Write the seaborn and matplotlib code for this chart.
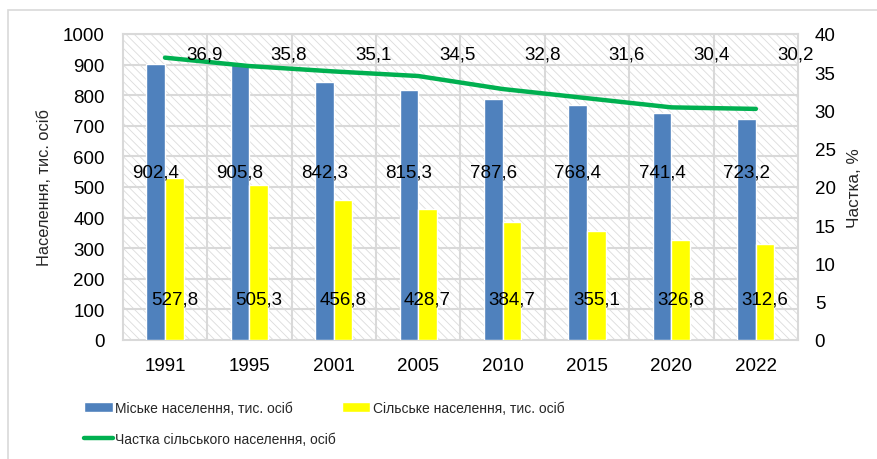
import numpy as np
import pandas as pd
import seaborn as sns
import matplotlib.pyplot as plt
from matplotlib.patches import Rectangle

years = ['1991', '1995', '2001', '2005', '2010', '2015', '2020', '2022']
urban = [902.4, 905.8, 842.3, 815.3, 787.6, 768.4, 741.4, 723.2]
rural = [527.8, 505.3, 456.8, 428.7, 384.7, 355.1, 326.8, 312.6]
rural_share = [36.9, 35.8, 35.1, 34.5, 32.8, 31.6, 30.4, 30.2]

urban_name = 'Міське населення, тис. осіб'
rural_name = 'Сільське населення, тис. осіб'
share_name = 'Частка сільського населення, осіб'

sns.set_theme(style='white')
plt.rcParams['font.family'] = ['Liberation Sans', 'DejaVu Sans']
plt.rcParams['hatch.linewidth'] = 0.6

df = pd.DataFrame({
    'year': years * 2,
    'value': urban + rural,
    'kind': [urban_name] * len(years) + [rural_name] * len(years),
})

fig = plt.figure(figsize=(8.77, 4.6), dpi=100)
ax = fig.add_axes([0.140, 0.259, 0.770, 0.665])

# chart frame
fig.patches.append(Rectangle((8 / 877, -0.1), 1.2, 1.1 - 11 / 460, transform=fig.transFigure,
                             facecolor='none', edgecolor='#d9d9d9', lw=1.2))

# hatched plot background
ax.set_facecolor('none')
ax.add_patch(Rectangle((0, 0), 1, 1, transform=ax.transAxes, facecolor='white',
                       edgecolor='#dcdcdc', hatch='\\\\\\\\', lw=0, zorder=-5))

sns.barplot(data=df, x='year', y='value', hue='kind', palette=['#4f81bd', '#ffff00'],
            width=0.44, saturation=1, ax=ax, zorder=3)
ax.get_legend().remove()

n = len(years)
ax.set_xlim(-0.5, n - 0.5)
ax.set_ylim(0, 1000)
ax.set_yticks(np.arange(0, 1001, 100))
ax.set_xticks(np.arange(-0.5, n, 1), minor=True)
ax.grid(False)
for y in np.arange(100, 1001, 100):
    ax.axhline(y, color='#d9d9d9', lw=1.5, zorder=1)
for x in np.arange(0.5, n - 0.5, 1):
    ax.axvline(x, color='#d9d9d9', lw=1.5, zorder=1)
for s in ax.spines.values():
    s.set_color('#d9d9d9')
    s.set_linewidth(1.5)
ax.tick_params(axis='x', which='major', length=0, labelsize=13.5, pad=12, colors='black')
ax.tick_params(axis='x', which='minor', length=5, width=1.5, color='#d9d9d9', direction='out')
ax.tick_params(axis='y', length=0, labelsize=13.5, pad=13, colors='black')
ax.set_xlabel('')
ax.set_ylabel('Населення, тис. осіб', fontsize=11.8, labelpad=8)

# value labels
for cont, label_y in zip(ax.containers, [550, 135]):
    for bar, v in zip(cont, cont.datavalues):
        ax.text(bar.get_x() + bar.get_width() / 2, label_y, f'{v:.1f}'.replace('.', ','),
                ha='center', va='center', fontsize=13.5, color='black', zorder=6)

ax2 = ax.twinx()
sns.lineplot(x=np.arange(n), y=rural_share, color='#00b050', lw=3.2, ax=ax2, zorder=4)
ax2.set_ylim(0, 40)
ax2.set_yticks(np.arange(0, 41, 5))
ax2.tick_params(axis='y', length=0, labelsize=13.5, pad=12, colors='black')
for s in ax2.spines.values():
    s.set_visible(False)
ax2.set_ylabel('Частка, %', fontsize=12.3, labelpad=8)
ax2.set_xlim(-0.5, n - 0.5)
for i, v in enumerate(rural_share):
    ax2.text(i + 0.47, 37.4, f'{v:.1f}'.replace('.', ','), ha='center', va='center',
             fontsize=13.5, color='black', zorder=6)

handles = [ax.containers[0], ax2.get_lines()[0], ax.containers[1]]
labels = [urban_name, share_name, rural_name]
fig.legend(handles, labels, ncol=2, loc='upper left', bbox_to_anchor=(0.088, 0.142),
           frameon=False, fontsize=10, handlelength=2.05, handleheight=0.7,
           handletextpad=0.2, columnspacing=0.4, labelspacing=1.25, borderpad=0)

fig.savefig('out.png', dpi=100)
